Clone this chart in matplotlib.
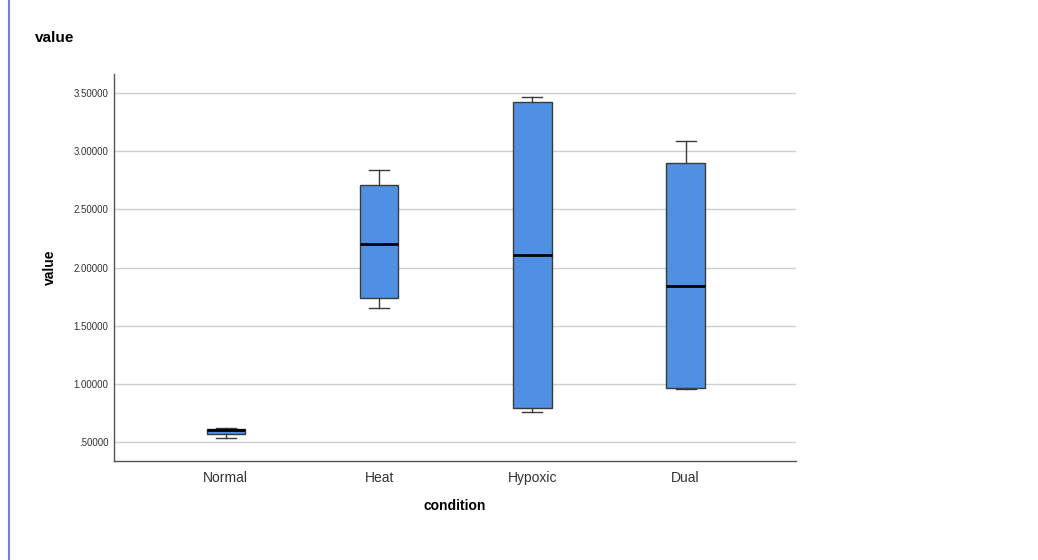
import matplotlib.pyplot as plt
from matplotlib.lines import Line2D
from matplotlib.ticker import FuncFormatter

plt.rcParams['font.family'] = ['Liberation Sans', 'DejaVu Sans']

# Five-number summaries per condition
conditions = ['Normal', 'Heat', 'Hypoxic', 'Dual']
whisker_low = [0.538, 1.649, 0.755, 0.953]
q1 = [0.570, 1.740, 0.795, 0.961]
median = [0.607, 2.205, 2.110, 1.841]
q3 = [0.616, 2.712, 3.423, 2.896]
whisker_high = [0.618, 2.838, 3.463, 3.085]

y_ticks = [0.5, 1.0, 1.5, 2.0, 2.5, 3.0, 3.5]

stats = []
for i, name in enumerate(conditions):
    stats.append({'label': name, 'whislo': whisker_low[i], 'q1': q1[i],
                  'med': median[i], 'q3': q3[i], 'whishi': whisker_high[i],
                  'fliers': []})

fig = plt.figure(figsize=(10.38, 5.6), dpi=100)
ax = fig.add_axes([0.1098, 0.1768, 0.657, 0.691])

ax.bxp(stats, positions=range(len(conditions)), widths=0.25,
       capwidths=0.13, patch_artist=True, showfliers=False,
       boxprops=dict(facecolor='#4f90e2', edgecolor='#3a3a3a', linewidth=1.0),
       medianprops=dict(color='black', linewidth=2.0),
       whiskerprops=dict(color='#3a3a3a', linewidth=1.0),
       capprops=dict(color='#3a3a3a', linewidth=1.0),
       zorder=3)

ax.set_xlim(-0.73, 3.72)
ax.set_ylim(0.337, 3.663)
ax.set_yticks(y_ticks)
ax.yaxis.set_major_formatter(FuncFormatter(lambda v, p: f'{v:.5f}'.lstrip('0')))
ax.tick_params(axis='y', length=0, pad=4, labelsize=7, labelcolor='#333333')
ax.tick_params(axis='x', length=0, pad=7, labelsize=10, labelcolor='#333333')
ax.yaxis.grid(True, color='#cfcfcf', linewidth=1.0, zorder=0)
ax.set_axisbelow(True)

for side in ['top', 'right']:
    ax.spines[side].set_visible(False)
for side in ['left', 'bottom']:
    ax.spines[side].set_color('#555555')
    ax.spines[side].set_linewidth(1.0)

ax.set_xlabel('condition', fontsize=10, fontweight='bold', labelpad=10)
ax.set_ylabel('value', fontsize=10, fontweight='bold', labelpad=12)

fig.text(0.034, 0.933, 'value', fontsize=11, fontweight='bold', ha='left', va='center')

# thin blue frame line along the left edge
fig.add_artist(Line2D([0.0085, 0.0085], [0.0, 1.0], transform=fig.transFigure,
                      color='#6f83dd', linewidth=1.5))

fig.savefig('out.png', dpi=100)
